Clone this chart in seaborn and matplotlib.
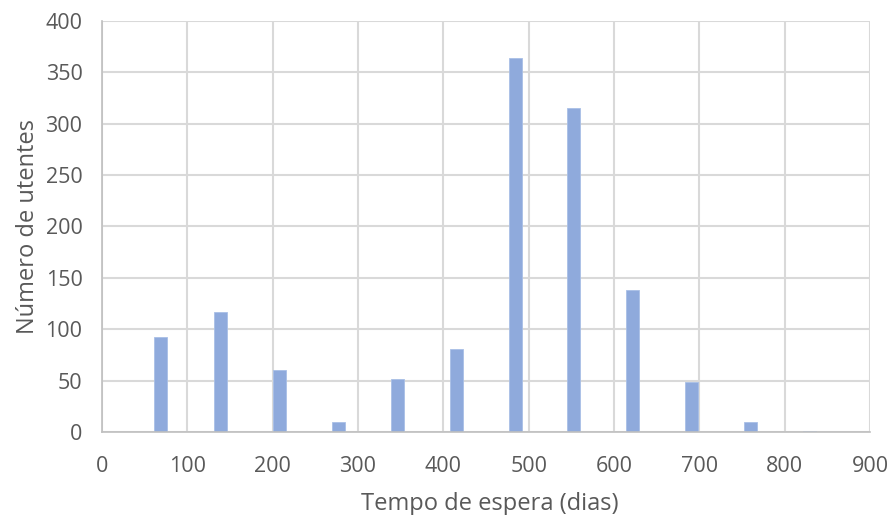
import matplotlib
matplotlib.use("Agg")
import matplotlib.pyplot as plt
import seaborn as sns
import pandas as pd

# Data
dias = [69, 139, 208, 277, 346, 415, 484, 553, 622, 691, 760, 829]
utentes = [93, 117, 61, 10, 52, 81, 364, 315, 138, 49, 10, 1]

x_ticks = [0, 100, 200, 300, 400, 500, 600, 700, 800, 900]
y_ticks = [0, 50, 100, 150, 200, 250, 300, 350, 400]

df = pd.DataFrame({"dias": dias, "utentes": utentes})

sns.set_theme(style="white")
plt.rcParams['font.family'] = ['Open Sans', 'DejaVu Sans']

fig = plt.figure(figsize=(8.89, 5.15), dpi=100)
ax = fig.add_axes([0.1147, 0.1606, 0.864, 0.7992])

sns.barplot(data=df, x="dias", y="utentes", native_scale=True, width=0.22,
            color="#8faadc", saturation=1, edgecolor="#a9bfe6", linewidth=0.6, ax=ax)

ax.set_xlim(0, 900)
ax.set_ylim(0, 400)
ax.set_xticks(x_ticks)
ax.set_yticks(y_ticks)
ax.grid(True, color="#d9d9d9", linewidth=1.5)
ax.set_axisbelow(True)
for s in ["top", "right"]:
    ax.spines[s].set_visible(False)
for s in ["left", "bottom"]:
    ax.spines[s].set_color("#bfbfbf")
    ax.spines[s].set_linewidth(1.2)

tc = "#595959"
ax.tick_params(axis="x", length=0, pad=17, labelsize=15.5, labelcolor=tc)
ax.tick_params(axis="y", length=0, pad=14, labelsize=15.5, labelcolor=tc)
ax.set_xlabel("Tempo de espera (dias)", fontsize=17, color=tc, labelpad=11, x=0.505)
ax.set_ylabel("Número de utentes", fontsize=17, color=tc, labelpad=4)

fig.savefig("out.png", dpi=100)
